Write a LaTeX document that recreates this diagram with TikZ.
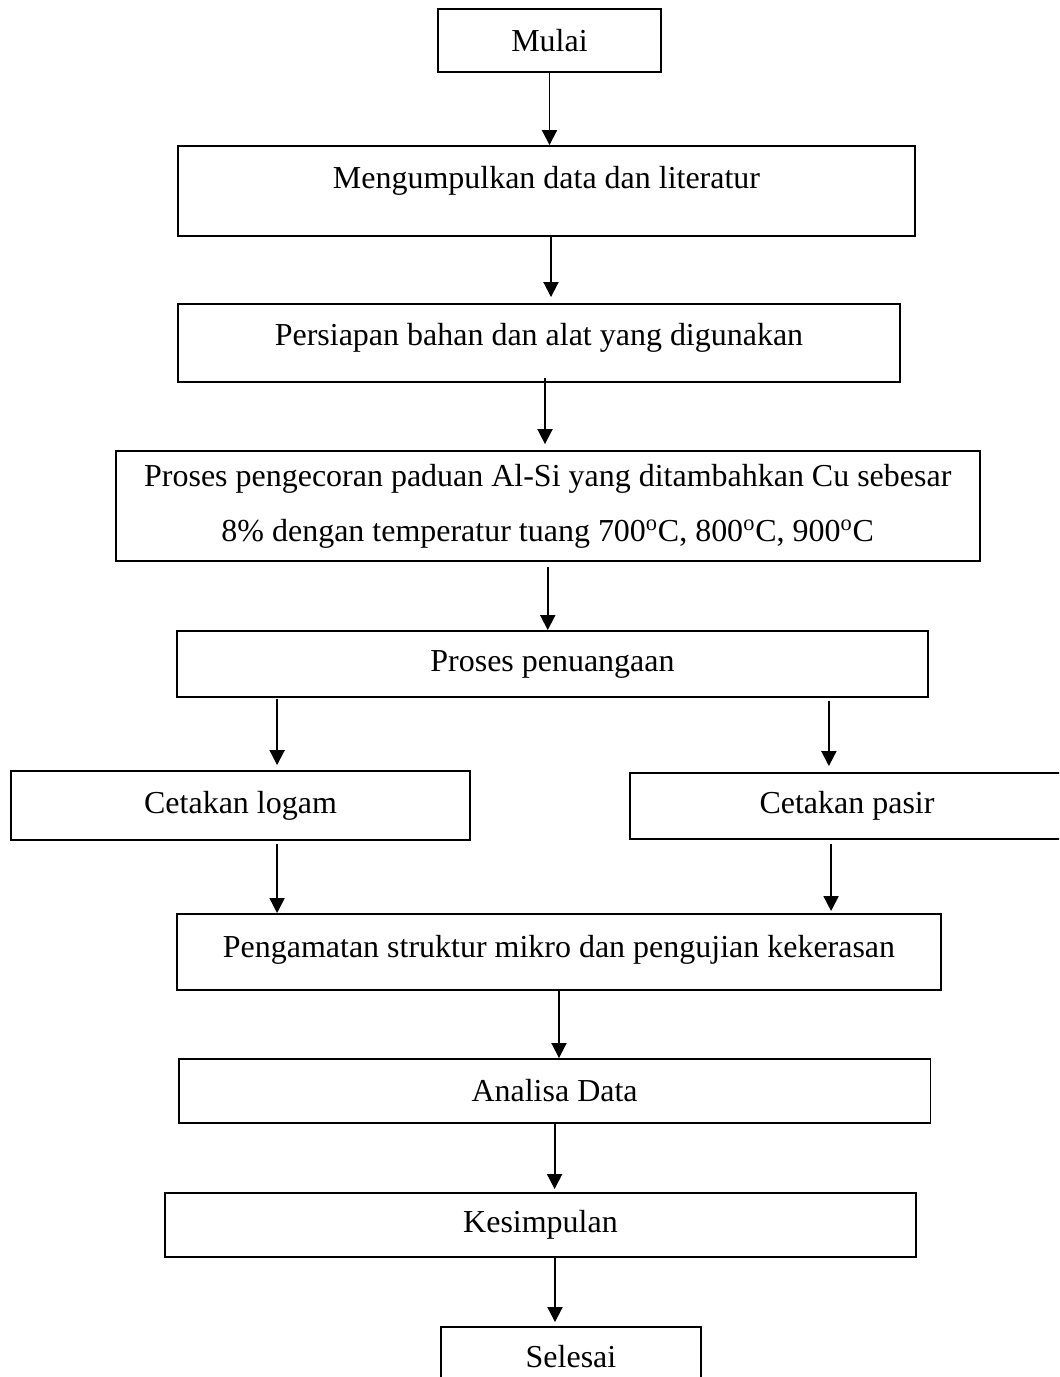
\documentclass[tikz,border=0pt]{standalone}
\usepackage{fontspec}
\setmainfont{Liberation Serif}
\usepackage{tikz}
\usetikzlibrary{calc}
\usetikzlibrary{arrows.meta}

\begin{document}
\begin{tikzpicture}[x=0.02cm, y=-0.02cm, >={Triangle[length=0.3cm, width=0.3cm]},
  box/.style={rectangle, draw, line width=1.1pt, align=center, inner sep=0pt, font=\fontsize{18.2}{31.3}\selectfont},
  flow/.style={->, line width=1.1pt}]
  \clip (0,0) rectangle (1059,1377);

  \node[box, minimum width=4.46cm, minimum height=1.26cm] (mulai) at (549.5,40.5) {Mulai};
  \node[box, minimum width=14.74cm, minimum height=1.8cm, text depth=0.54cm] (kumpul) at (546.5,191) {Mengumpulkan data dan literatur};
  \node[box, minimum width=14.44cm, minimum height=1.56cm, text depth=0.34cm] (persiapan) at (539,343) {Persiapan bahan dan alat yang digunakan};
  \node[box, minimum width=17.29cm, minimum height=2.2cm] (pengecoran) at (547.75,506) {Proses pengecoran paduan Al-Si yang ditambahkan Cu sebesar\\8\% dengan temperatur tuang 700\textsuperscript{o}C, 800\textsuperscript{o}C, 900\textsuperscript{o}C};
  \node[box, minimum width=15.02cm, minimum height=1.32cm] (penuangan) at (552.5,664) {Proses penuangaan};
  \node[box, minimum width=9.18cm, minimum height=1.38cm] (logam) at (240.5,805.5) {Cetakan logam};
  \node[box, minimum width=8.68cm, minimum height=1.32cm] (pasir) at (847,806) {Cetakan pasir};
  \node[box, minimum width=15.28cm, minimum height=1.52cm, text depth=0.22cm] (pengamatan) at (559,952) {Pengamatan struktur mikro dan pengujian kekerasan};
  \node[box, minimum width=15.04cm, minimum height=1.28cm] (analisa) at (554.6,1091) {Analisa Data};
  \node[box, minimum width=15.02cm, minimum height=1.28cm] (kesimpulan) at (540.5,1225) {Kesimpulan};
  \node[box, minimum width=5.2cm, minimum height=1.2cm] (selesai) at (571,1357) {Selesai};

  % branch points
  \coordinate (kiri) at ($(penuangan.south west)+(101,0)$);
  \coordinate (kanan) at ($(penuangan.south east)+(-100,0)$);
  \coordinate (kiribawah) at ($(logam.south west)+(267,0)$);
  \coordinate (kananbawah) at ($(pasir.south west)+(202,0)$);

  \draw[flow] (mulai.south) -- (mulai.south |- kumpul.north);
  \draw[flow] ([xshift=0.09cm]kumpul.south) -- ([xshift=0.09cm, yshift=0.12cm]kumpul.south |- persiapan.north);
  \draw[flow] ([xshift=0.12cm, yshift=0.1cm]persiapan.south) -- ([xshift=0.12cm, yshift=0.12cm]persiapan.south |- pengecoran.north);
  \draw[flow] ([yshift=-0.1cm]pengecoran.south) -- (pengecoran.south |- penuangan.north);
  \draw[flow] ([yshift=-0.02cm]kiri) -- ([yshift=0.1cm]kiri |- logam.north);
  \draw[flow] ([yshift=-0.06cm]kanan) -- ([yshift=0.12cm]kanan |- pasir.north);
  \draw[flow] ([yshift=-0.06cm]kiribawah) -- (kiribawah |- pengamatan.north);
  \draw[flow] ([yshift=-0.08cm]kananbawah) -- ([yshift=0.04cm]kananbawah |- pengamatan.north);
  \draw[flow] (pengamatan.south) -- (pengamatan.south |- analisa.north);
  \draw[flow] (analisa.south) -- ([yshift=0.06cm]analisa.south |- kesimpulan.north);
  \draw[flow] ([xshift=0.29cm]kesimpulan.south) -- ([xshift=0.29cm, yshift=0.08cm]kesimpulan.south |- selesai.north);
\end{tikzpicture}
\end{document}
